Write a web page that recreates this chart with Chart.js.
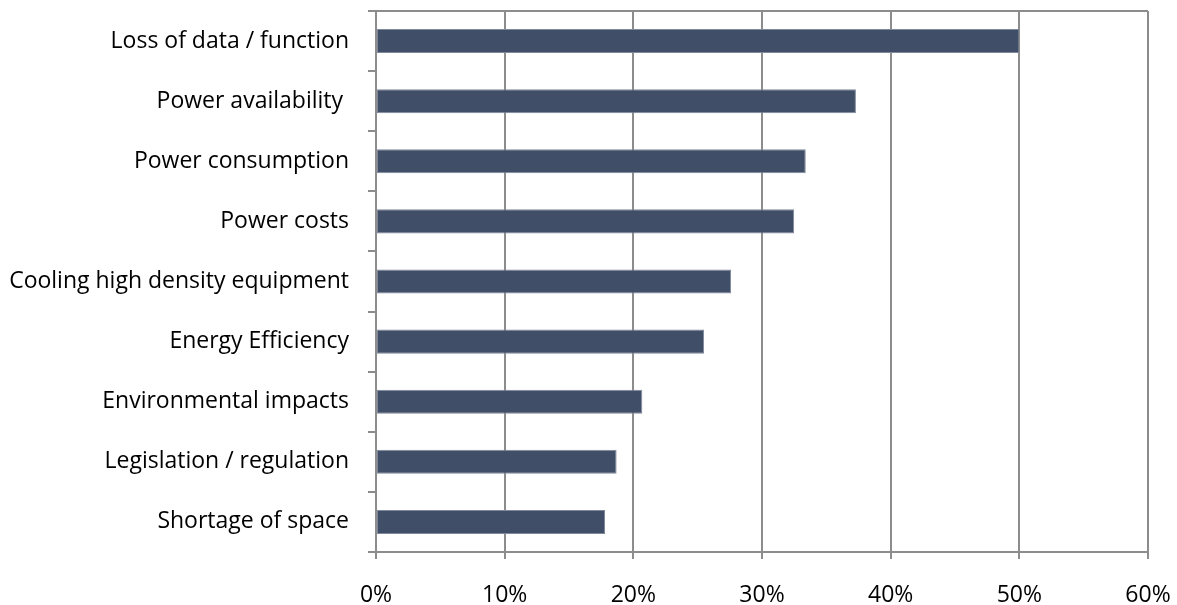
<!DOCTYPE html>
<html>
<head>
<meta charset="utf-8">
<script src="https://cdn.jsdelivr.net/npm/chart.js@4/dist/chart.umd.min.js"></script>
<style>
  html, body { margin: 0; padding: 0; background: #fff; }
  #wrap { width: 1177px; height: 605px; }
</style>
</head>
<body>
<div id="wrap"><canvas id="BarChart"></canvas></div>
<script>
const categories = [
    'Loss of data / function',
    'Power availability ',
    'Power consumption',
    'Power costs',
    'Cooling high density equipment',
    'Energy Efficiency',
    'Environmental impacts',
    'Legislation / regulation',
    'Shortage of space'
];
const shares = [50.0, 37.3, 33.4, 32.5, 27.6, 25.5, 20.7, 18.7, 17.8];
const xTicks = [0, 10, 20, 30, 40, 50, 60];

const gridGrey = '#8c8c8c';
const labelFont = { family: 'Open Sans', size: 23 };

// closes the box along the top edge of the plot
const topEdge = {
    id: 'topEdge',
    afterDraw(chart) {
        const { ctx, chartArea } = chart;
        ctx.save();
        ctx.strokeStyle = gridGrey;
        ctx.lineWidth = 2;
        ctx.beginPath();
        ctx.moveTo(chartArea.left, chartArea.top);
        ctx.lineTo(chartArea.right, chartArea.top);
        ctx.stroke();
        ctx.restore();
    }
};

const ctx = document.getElementById('BarChart').getContext('2d');
new Chart(ctx, {
    type: 'bar',
    data: {
        labels: categories,
        datasets: [{
            data: shares,
            backgroundColor: '#404f67',
            borderColor: '#7f899b',
            borderWidth: 1,
            borderSkipped: false,
            barPercentage: 0.4,
            categoryPercentage: 1
        }]
    },
    plugins: [topEdge],
    options: {
        indexAxis: 'y',
        responsive: true,
        maintainAspectRatio: false,
        animation: false,
        layout: { padding: { top: 11, right: 29, left: 0, bottom: 0 } },
        plugins: {
            legend: { display: false },
            tooltip: { enabled: false }
        },
        scales: {
            x: {
                min: 0,
                max: 60,
                afterBuildTicks: scale => {
                    scale.ticks = xTicks.map(v => ({ value: v }));
                },
                afterFit: scale => {
                    scale.height = 53;
                    scale.paddingLeft = 0;
                    scale.paddingRight = 0;
                },
                ticks: {
                    color: '#000',
                    font: labelFont,
                    padding: 23,
                    callback: v => v + '%'
                },
                grid: {
                    color: gridGrey,
                    lineWidth: 2,
                    drawTicks: true,
                    tickLength: 7
                },
                border: { color: gridGrey, width: 2 }
            },
            y: {
                afterFit: scale => {
                    scale.width = 376;
                    scale.paddingTop = 0;
                    scale.paddingBottom = 0;
                },
                ticks: {
                    color: '#000',
                    font: labelFont,
                    padding: 19
                },
                grid: {
                    offset: true,
                    drawOnChartArea: false,
                    color: gridGrey,
                    lineWidth: 2,
                    tickLength: 8
                },
                border: { color: gridGrey, width: 2 }
            }
        }
    }
});
</script>
</body>
</html>
